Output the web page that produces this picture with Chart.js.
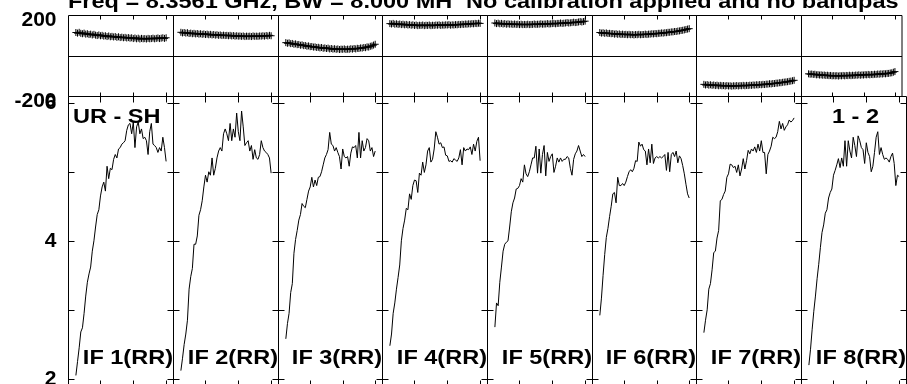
<!DOCTYPE html>
<html>
<head>
<meta charset="utf-8">
<script src="https://cdn.jsdelivr.net/npm/chart.js@4.4.0/dist/chart.umd.min.js"></script>
<style>
  html, body { margin: 0; padding: 0; background: #fff; }
  #wrap { position: relative; width: 907px; height: 384px; overflow: hidden; background: #fff; }
  #wrap canvas { position: absolute; left: 0; top: 0; }
</style>
</head>
<body>
<div id="wrap"></div>
<script>
// channel numbers shared by every IF
const channels = [5, 6, 7, 8, 9, 10, 11, 12, 13, 14, 15, 16, 17, 18, 19, 20, 21, 22, 23, 24,
  25, 26, 27, 28, 29, 30, 31, 32, 33, 34, 35, 36, 37, 38, 39, 40, 41, 42, 43, 44,
  45, 46, 47, 48, 49, 50, 51, 52, 53, 54, 55, 56, 57, 58, 59, 60];

// amplitude per channel
const ampIF1 = [2.05, 2.25, 2.45, 2.68, 2.74, 2.95, 3.2, 3.4, 3.52, 3.62, 3.85, 4.0, 4.2, 4.38, 4.45, 4.65, 4.78, 4.85, 4.72, 5.08,
  4.9, 5.05, 5.03, 5.18, 5.25, 5.2, 5.33, 5.35, 5.4, 5.42, 5.45, 5.6, 5.68, 5.7, 5.55, 5.72, 5.35, 5.65, 5.72, 5.55,
  5.62, 5.48, 5.5, 5.45, 5.25, 5.58, 5.7, 5.4, 5.38, 5.35, 5.28, 5.35, 5.3, 5.5, 5.35, 5.15];
const ampIF2 = [2.12, 2.3, 2.5, 2.65, 2.85, 3.3, 3.48, 3.6, 3.95, 3.95, 4.07, 4.37, 4.45, 4.58, 4.78, 4.95, 4.85, 5.0, 4.95, 5.2,
  4.95, 5.05, 5.2, 5.3, 5.35, 5.3, 5.55, 5.62, 5.55, 5.45, 5.7, 5.45, 5.62, 5.5, 5.85, 5.58, 5.45, 5.88, 5.65, 5.38,
  5.42, 5.45, 5.3, 5.38, 5.18, 5.32, 5.2, 5.18, 5.25, 5.45, 5.35, 5.3, 5.28, 5.25, 5.2, 4.98];
const ampIF3 = [2.58, 2.8, 2.95, 3.25, 3.38, 3.82, 4.02, 4.15, 4.3, 4.38, 4.54, 4.5, 4.48, 4.6, 4.72, 4.78, 4.92, 4.78, 4.88, 4.8,
  4.92, 4.93, 5.0, 5.1, 5.2, 5.25, 5.32, 5.57, 5.4, 5.38, 5.3, 5.35, 5.28, 5.22, 5.04, 5.33, 5.22, 5.2, 5.22, 5.08,
  5.27, 5.36, 5.35, 5.38, 5.2, 5.57, 5.2, 5.45, 5.3, 5.35, 5.48, 5.45, 5.3, 5.35, 5.22, 5.3];
const ampIF4 = [2.48, 2.65, 2.95, 3.1, 3.3, 3.47, 3.65, 4.0, 4.18, 4.3, 4.47, 4.45, 4.68, 4.6, 4.8, 4.88, 4.87, 4.7, 4.98, 4.95,
  5.14, 4.99, 5.1, 5.3, 5.35, 5.14, 5.18, 5.33, 5.58, 5.5, 5.4, 5.42, 5.35, 5.36, 5.24, 5.23, 5.15, 5.16, 5.14, 5.19,
  5.17, 5.15, 5.2, 5.32, 5.1, 5.35, 5.3, 5.33, 5.32, 5.36, 5.25, 5.4, 5.3, 5.44, 5.5, 5.16];
const ampIF5 = [2.75, 3.1, 3.06, 3.4, 3.62, 3.85, 3.95, 3.98, 4.0, 4.2, 4.42, 4.55, 4.62, 4.75, 4.76, 4.8, 4.9, 4.85, 5.1, 4.97,
  4.93, 5.0, 5.1, 5.2, 5.2, 5.37, 4.98, 5.33, 4.98, 5.25, 5.38, 4.94, 5.28, 5.15, 5.22, 5.26, 4.99, 5.08, 5.2, 5.14,
  5.2, 5.15, 5.18, 5.18, 5.22, 5.2, 5.05, 4.95, 5.18, 5.26, 5.3, 5.38, 5.3, 5.22, 5.25, 5.22];
const ampIF6 = [2.92, 3.17, 3.5, 3.8, 4.05, 4.18, 4.35, 4.5, 4.68, 4.7, 4.55, 4.92, 4.8, 4.8, 4.83, 4.8, 4.85, 4.93, 5.0, 5.03,
  5.0, 5.05, 5.16, 5.15, 5.43, 5.37, 5.4, 5.32, 5.3, 5.1, 5.33, 5.13, 5.4, 5.12, 5.2, 5.22, 5.2, 5.22, 5.2, 5.22,
  5.25, 5.02, 5.28, 5.0, 5.25, 5.28, 5.22, 5.3, 5.13, 5.23, 5.19, 5.09, 4.97, 4.82, 4.68, 4.62];
const ampIF7 = [2.67, 2.85, 3.0, 3.3, 3.38, 3.58, 3.83, 3.85, 4.04, 4.15, 4.58, 4.6, 4.67, 4.72, 4.92, 4.97, 5.11, 5.1, 5.06, 5.08,
  4.99, 5.1, 4.94, 5.04, 5.19, 5.04, 5.16, 5.31, 5.26, 5.33, 5.3, 5.36, 5.28, 5.4, 5.3, 5.45, 5.28, 5.28, 4.97, 5.25,
  5.3, 5.37, 5.5, 5.48, 5.5, 5.58, 5.73, 5.62, 5.7, 5.6, 5.65, 5.68, 5.75, 5.72, 5.74, 5.78];
const ampIF8 = [2.2, 2.43, 2.72, 2.98, 3.2, 3.45, 3.66, 3.9, 4.12, 4.23, 4.4, 4.45, 4.62, 4.7, 4.75, 4.95, 5.02, 5.1, 5.19, 5.06,
  5.2, 5.08, 5.45, 5.08, 5.45, 5.3, 5.2, 5.5, 5.38, 5.22, 5.52, 5.45, 5.35, 5.32, 5.12, 5.42, 5.28, 5.22, 5.0, 5.08,
  5.28, 5.5, 5.58, 5.25, 5.35, 5.25, 5.18, 5.2, 5.18, 5.14, 5.22, 5.27, 5.12, 4.8, 4.95, 4.93];

// phase per channel (degrees)
const phaseIF1 = [116, 113, 117, 112, 110, 113, 108, 110, 106, 108, 104, 107, 103, 101, 104, 100, 102, 98, 100, 96,
  99, 95, 97, 94, 96, 92, 95, 91, 93, 90, 92, 89, 91, 88, 90, 86, 89, 85, 88, 84,
  87, 85, 86, 84, 87, 85, 86, 88, 85, 87, 89, 86, 88, 90, 87, 90];
const phaseIF2 = [117, 114, 116, 113, 115, 111, 113, 110, 112, 109, 111, 108, 110, 107, 109, 106, 108, 105, 107, 104,
  106, 103, 105, 102, 104, 101, 103, 101, 102, 100, 102, 99, 101, 98, 100, 98, 99, 97, 99, 96,
  98, 97, 98, 96, 99, 97, 98, 97, 99, 98, 100, 98, 101, 99, 102, 100];
const phaseIF3 = [66, 63, 65, 61, 62, 58, 60, 56, 57, 53, 55, 51, 52, 48, 50, 46, 47, 44, 45, 42,
  43, 40, 42, 38, 40, 37, 39, 35, 37, 34, 36, 33, 35, 32, 34, 33, 35, 32, 34, 33,
  36, 34, 37, 35, 38, 37, 40, 39, 42, 41, 45, 44, 48, 50, 54, 58];
const phaseIF4 = [160, 158, 161, 157, 159, 156, 158, 155, 157, 154, 156, 153, 155, 152, 154, 151, 153, 150, 152, 151,
  153, 150, 152, 151, 153, 150, 152, 151, 153, 152, 154, 151, 153, 152, 154, 153, 155, 152, 154, 153,
  155, 154, 156, 155, 157, 156, 158, 157, 159, 158, 160, 159, 161, 160, 162, 161];
const phaseIF5 = [163, 160, 162, 159, 161, 158, 160, 157, 159, 157, 158, 156, 158, 156, 157, 155, 157, 155, 156, 155,
  157, 155, 156, 156, 158, 156, 157, 157, 159, 157, 158, 158, 160, 158, 159, 160, 161, 159, 161, 161,
  163, 161, 162, 163, 165, 163, 164, 165, 167, 165, 166, 168, 170, 168, 170, 172];
const phaseIF6 = [116, 113, 115, 112, 114, 111, 112, 110, 111, 108, 110, 107, 109, 106, 108, 106, 107, 105, 107, 105,
  106, 104, 106, 105, 107, 105, 106, 106, 108, 106, 108, 108, 110, 109, 111, 110, 112, 112, 114, 113,
  115, 115, 117, 117, 119, 119, 121, 121, 123, 124, 126, 127, 129, 131, 133, 135];
const phaseIF7 = [-140, -143, -141, -144, -142, -145, -143, -146, -144, -147, -145, -147, -146, -148, -146, -148, -147, -149, -147, -148,
  -146, -148, -146, -147, -145, -147, -145, -146, -144, -145, -143, -144, -142, -143, -141, -142, -140, -141, -139, -139,
  -137, -138, -136, -136, -134, -134, -132, -132, -130, -129, -128, -127, -125, -124, -122, -120];
const phaseIF8 = [-88, -90, -89, -91, -90, -93, -92, -94, -93, -95, -94, -96, -95, -97, -96, -98, -97, -98, -97, -99,
  -97, -98, -96, -98, -96, -97, -95, -97, -95, -96, -94, -95, -93, -95, -93, -94, -92, -93, -91, -93,
  -91, -92, -90, -91, -89, -90, -88, -89, -87, -88, -86, -86, -84, -83, -80, -77];

const ifNames = ['IF 1(RR)', 'IF 2(RR)', 'IF 3(RR)', 'IF 4(RR)', 'IF 5(RR)', 'IF 6(RR)', 'IF 7(RR)', 'IF 8(RR)'];
const chanTicks = [20, 40, 60];
const phaseTickLabels = [-200, 200];
const ampTickLabels = [2, 4, 6];
const ampTickMarks = [2, 3, 4, 5, 6];
const titleLeft = 'Freq = 8.3561 GHz, BW = 8.000 MH';
const titleRight = 'No calibration applied and no bandpas';
const baselineName = 'UR - SH';
const sourceName = '1 - 2';

const ampSeries = [ampIF1, ampIF2, ampIF3, ampIF4, ampIF5, ampIF6, ampIF7, ampIF8];
const phaseSeries = [phaseIF1, phaseIF2, phaseIF3, phaseIF4, phaseIF5, phaseIF6, phaseIF7, phaseIF8];

// page geometry
const W = 907, H = 410;
const FONT = '"Liberation Sans", Arial, sans-serif';
const STRETCH = 1.12;
const edge = i => Math.floor(68.5 + 104.69 * i + 0.3) + 0.5;

const wrap = document.getElementById('wrap');

// box + inward tick marks, drawn from the chart's own scales
function framePlugin(tickLen, yMarks, zeroLine) {
  return {
    id: 'frame',
    afterDatasetsDraw(chart) {
      const { ctx, chartArea: a, scales: { x, y } } = chart;
      ctx.save();
      ctx.strokeStyle = '#000';
      ctx.lineWidth = 1;
      ctx.beginPath();
      ctx.rect(a.left, a.top, a.right - a.left, a.bottom - a.top);
      chanTicks.forEach(v => {
        const px = Math.round(x.getPixelForValue(v)) + 0.5;
        ctx.moveTo(px, a.top); ctx.lineTo(px, a.top + tickLen);
        ctx.moveTo(px, a.bottom); ctx.lineTo(px, a.bottom - tickLen);
      });
      yMarks.forEach(v => {
        const py = Math.round(y.getPixelForValue(v)) + 0.5;
        ctx.moveTo(a.left, py); ctx.lineTo(a.left + tickLen, py);
        ctx.moveTo(a.right, py); ctx.lineTo(a.right - tickLen, py);
      });
      if (zeroLine) {
        const py = Math.round(y.getPixelForValue(0)) + 0.5;
        ctx.moveTo(a.left, py); ctx.lineTo(a.right, py);
      }
      ctx.stroke();
      ctx.restore();
    }
  };
}

// bold, slightly wide lettering
function textPlugin(items) {
  return {
    id: 'panelText',
    afterDraw(chart) {
      const ctx = chart.ctx;
      ctx.save();
      ctx.fillStyle = '#000';
      ctx.font = 'bold 21px ' + FONT;
      ctx.textBaseline = 'alphabetic';
      items.forEach(it => {
        ctx.save();
        ctx.translate(it.x, it.y);
        ctx.scale(STRETCH, 1);
        ctx.textAlign = it.align;
        ctx.fillText(it.text, 0, 0);
        ctx.restore();
      });
      ctx.restore();
    }
  };
}

function makePanel(i, isPhase) {
  const canvas = document.createElement('canvas');
  canvas.width = W;
  canvas.height = H;
  wrap.appendChild(canvas);

  const l = edge(i), r = edge(i + 1);
  const top = isPhase ? 15.5 : 96.5;
  const bottom = isPhase ? 96.5 : 386.5;
  const first = i === 0;
  const vals = isPhase ? phaseSeries[i] : ampSeries[i];
  const points = channels.map((c, k) => ({ x: c, y: vals[k] }));

  const texts = [];
  if (isPhase && first) {
    texts.push({ text: titleLeft, x: 68, y: 8, align: 'left' });
    texts.push({ text: titleRight, x: 466, y: 8, align: 'left' });
  }
  if (!isPhase) {
    texts.push({ text: ifNames[i], x: r - 0.5, y: 364, align: 'right' });
    if (first) texts.push({ text: baselineName, x: 73, y: 123, align: 'left' });
    if (i === 7) texts.push({ text: sourceName, x: 832, y: 123, align: 'left' });
  }

  const dataset = isPhase ? {
    data: points,
    borderColor: '#000',
    borderWidth: 1.5,
    pointStyle: 'cross',
    pointRadius: 3.5,
    pointBorderWidth: 1,
    pointBorderColor: '#000',
    tension: 0
  } : {
    data: points,
    borderColor: '#000',
    borderWidth: 1,
    pointRadius: 0,
    tension: 0
  };

  const yScale = {
    type: 'linear',
    min: isPhase ? -200 : 1.89,
    max: isPhase ? 200 : 6.09,
    display: first
  };
  if (first) {
    // only the left column carries tick labels
    Object.assign(yScale, {
      grid: { display: false, drawTicks: false },
      border: { display: false },
      afterBuildTicks: s => { s.ticks = (isPhase ? phaseTickLabels : ampTickLabels).map(v => ({ value: v })); },
      afterFit: s => {
        s.width = l;
        // labels may overhang the box edges; keep the plot area where it is
        s.paddingTop = 0;
        s.paddingBottom = 0;
      },
      ticks: {
        color: '#000',
        padding: 12,
        labelOffset: isPhase ? 5 : 0,
        autoSkip: false,
        font: { family: FONT, size: 21, weight: 'bold' },
        callback: v => String(v)
      }
    });
  }

  return new Chart(canvas, {
    type: 'line',
    data: { datasets: [dataset] },
    options: {
      responsive: false,
      animation: false,
      devicePixelRatio: 1,
      events: [],
      layout: {
        padding: { left: first ? 0 : l, right: W - r, top: top, bottom: H - bottom }
      },
      plugins: { legend: { display: false }, tooltip: { enabled: false }, title: { display: false } },
      scales: {
        x: { type: 'linear', min: 0.5, max: 64.5, display: false },
        y: yScale
      }
    },
    plugins: [framePlugin(isPhase ? 4 : 6, isPhase ? [] : ampTickMarks, isPhase), textPlugin(texts)]
  });
}

for (let i = 0; i < 8; i++) {
  makePanel(i, true);
  makePanel(i, false);
}
</script>
</body>
</html>
